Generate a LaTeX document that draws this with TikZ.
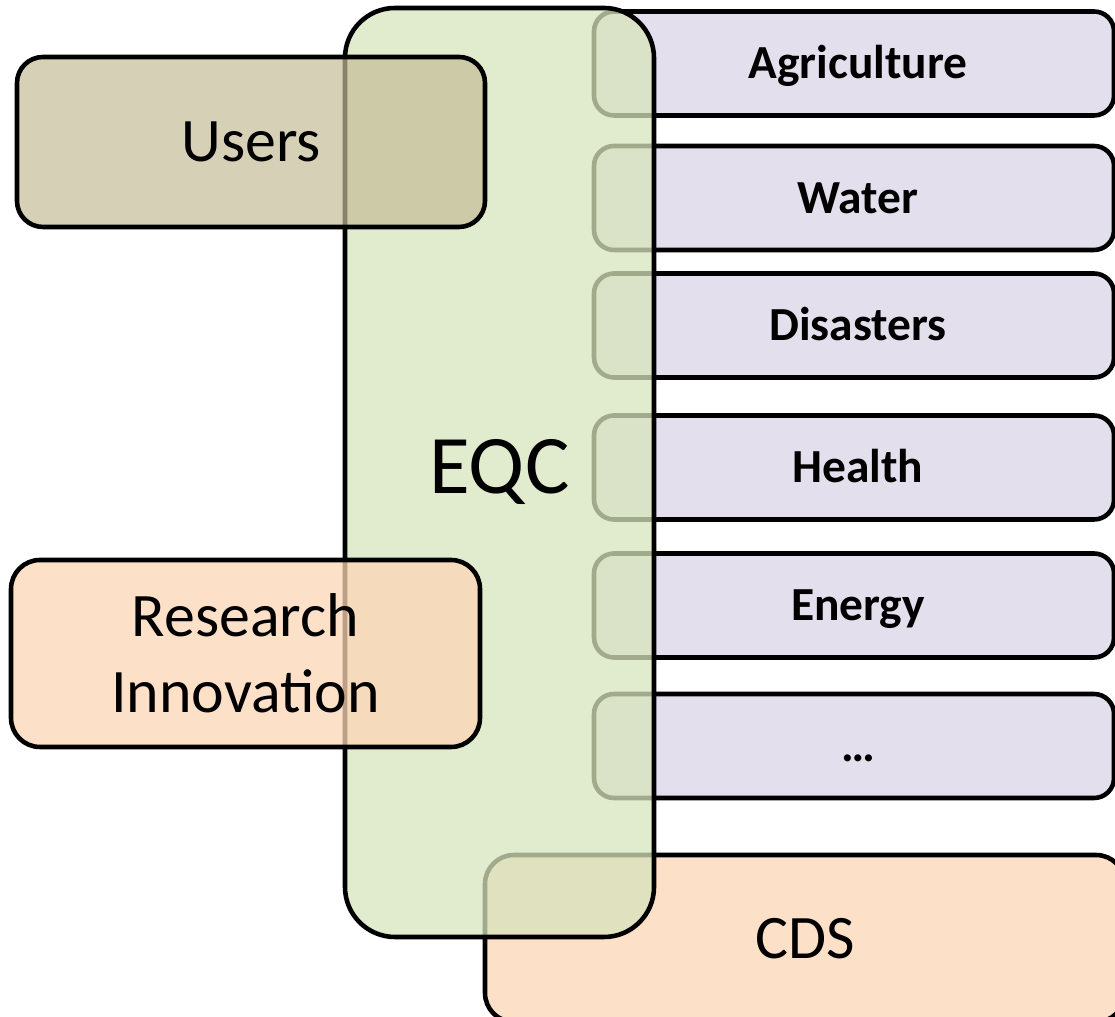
\documentclass[tikz,border=0pt]{standalone}
\usepackage{fontspec}
\setmainfont{Carlito}
\definecolor{eqcgreen}{HTML}{D7E4BD}
\definecolor{sectorlilac}{HTML}{E4DFEC}
\definecolor{usertan}{HTML}{C4BD97}
\definecolor{peach}{HTML}{FCD5B5}
\tikzset{
  box/.style={draw=black,line width=1.3pt,inner sep=0pt,text=black,text opacity=1},
  sector/.style={box,fill=sectorlilac,rounded corners=0.2cm,minimum width=5.2cm,minimum height=1.04cm,text height=0.31cm,text depth=0cm,font=\fontsize{13.5}{16}\selectfont\bfseries},
  eqcbox/.style={box,fill=eqcgreen,fill opacity=0.75,rounded corners=0.5cm,minimum width=3.09cm,minimum height=9.29cm,font=\fontsize{23.7}{28}\selectfont},
  userbox/.style={box,fill=usertan,fill opacity=0.7,rounded corners=0.26cm,minimum width=4.68cm,minimum height=1.7cm,font=\fontsize{17.6}{21.5}\selectfont},
  peachbox/.style={box,fill=peach,fill opacity=0.75,rounded corners=0.29cm,font=\fontsize{17.6}{21.5}\selectfont,align=center}
}
\begin{document}
\begin{tikzpicture}
\clip (0,0) rectangle (11.15,10.17);
% sector boxes, EQC laid over their left ends
\foreach \name/\y/\txt in {agri/9.535/Agriculture,water/8.19/Water,disasters/6.915/Disasters,health/5.495/Health,energy/4.115/Energy,more/2.71/…}
  \node[sector] (\name) at (8.54,\y) {\hspace*{0.08cm}\txt};
\node[peachbox,minimum width=6.4cm,minimum height=1.67cm] (cds) at (8.05,0.785) {CDS};
\node[eqcbox] (eqc) at (4.995,5.445) {EQC};
\node[userbox] (users) at (2.51,8.75) {Users};
\node[peachbox,minimum width=4.69cm,minimum height=1.87cm] (research) at (2.455,3.635) {Research\\Innovation};
\end{tikzpicture}
\end{document}
